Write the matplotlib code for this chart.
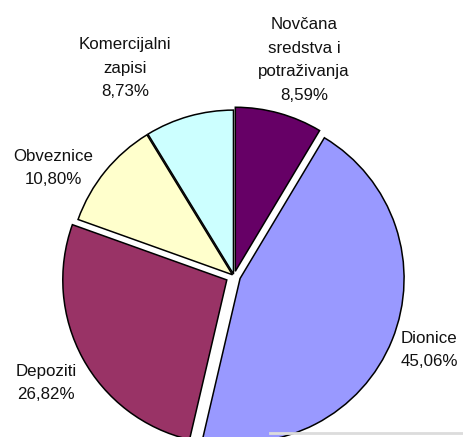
import matplotlib
matplotlib.use("Agg")
import matplotlib.pyplot as plt

# data (shares of portfolio, %)
names = ["Novčana\nsredstva i\npotraživanja", "Dionice", "Depoziti", "Obveznice", "Komercijalni\nzapisi"]
shares = [8.59, 45.06, 26.82, 10.80, 8.73]
colors = ["#660066", "#9999FF", "#993366", "#FFFFCC", "#CCFFFF"]
explode = [0.03, 0.04, 0.05, 0.012, 0.012]

W, H = 464, 437
cx, cy, R = 234, 276, 164   # pie centre and radius in pixels (from top-left)

fig = plt.figure(figsize=(W / 100, H / 100), dpi=100)
ax = fig.add_axes([0, 0, 1, 1])
ax.pie(shares, colors=colors, explode=explode, startangle=90, counterclock=False,
       wedgeprops=dict(edgecolor="black", linewidth=1.1))
ax.set_xlim(-cx / R, (W - cx) / R)
ax.set_ylim(-(H - cy) / R, cy / R)
ax.set_aspect("equal")
ax.axis("off")

# label positions in pixels (centre of text block)
label_pos = [(304, 60), (429, 350), (46, 383), (53, 168), (125, 68)]
for name, v, (px, py) in zip(names, shares, label_pos):
    txt = name + "\n" + f"{v:.2f}%".replace(".", ",")
    fig.text(px / W, 1 - py / H, txt, ha="center", va="center",
             fontsize=12.2, family="Liberation Sans", linespacing=1.72, color="#111111")

# faint frame shadow at the bottom
fig.add_artist(plt.Line2D([270 / W, 1], [1 - 433 / H, 1 - 433 / H], color="#dcdcdc", lw=2))

fig.savefig("out.png", dpi=100, facecolor="white")
